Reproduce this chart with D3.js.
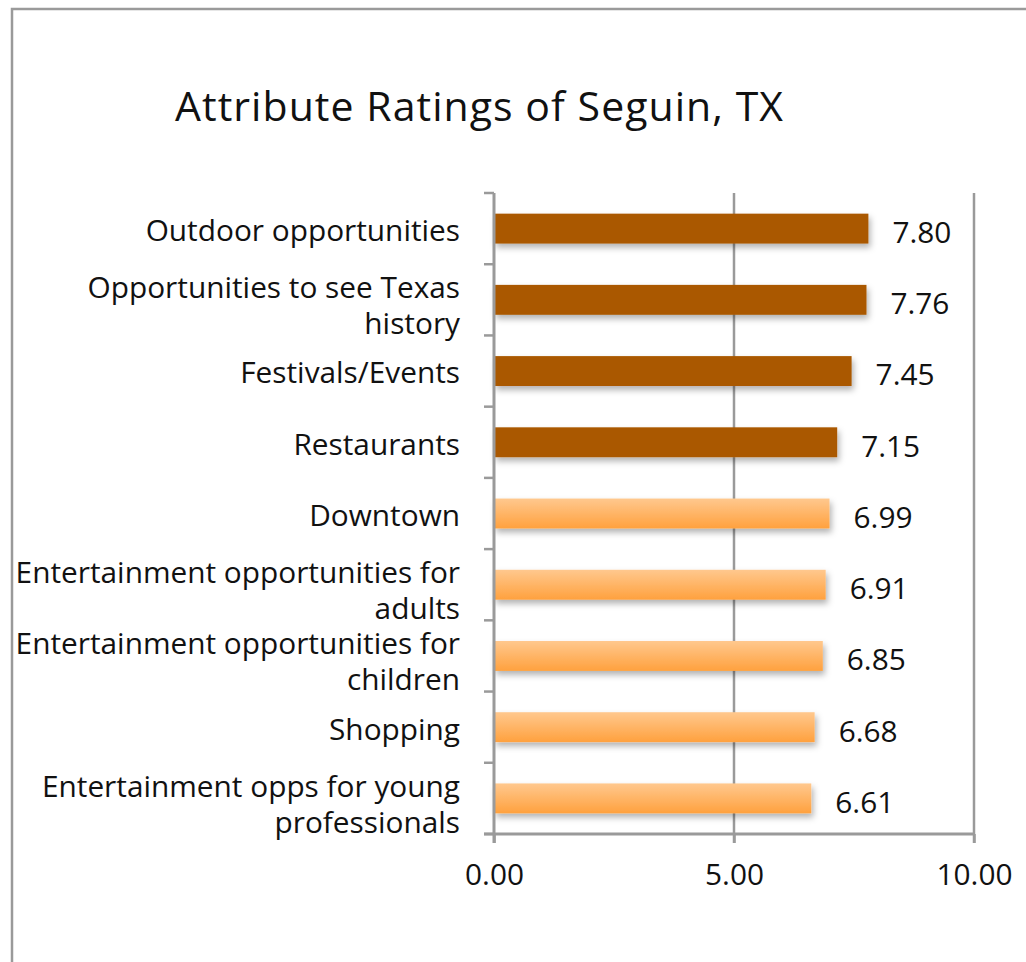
<!DOCTYPE html>
<html>
<head>
<meta charset="utf-8">
<script src="https://cdn.jsdelivr.net/npm/d3@7"></script>
<style>
  html, body { margin: 0; padding: 0; background: #fff; }
  svg text { font-family: "Open Sans", "Noto Sans", sans-serif; fill: #111; }
</style>
</head>
<body>
<div id="chart"></div>
<script>
// chart values
var categories = [
  "Outdoor opportunities",
  "Opportunities to see Texas history",
  "Festivals/Events",
  "Restaurants",
  "Downtown",
  "Entertainment opportunities for adults",
  "Entertainment opportunities for children",
  "Shopping",
  "Entertainment opps for young professionals"
];
var ratings = [7.80, 7.76, 7.45, 7.15, 6.99, 6.91, 6.85, 6.68, 6.61];
var tiers = ["top", "top", "top", "top", "other", "other", "other", "other", "other"];
var xTicks = [0, 5, 10];
var title = "Attribute Ratings of Seguin, TX";

var width = 1026, height = 962;
var margin = { top: 193, right: 52, bottom: 128, left: 494 };
var fontSize = "29.8px";

var svg = d3.select("#chart").append("svg")
  .attr("width", width)
  .attr("height", height);

var defs = svg.append("defs");

var grad = defs.append("linearGradient")
  .attr("id", "lightBar")
  .attr("x1", 0).attr("y1", 0).attr("x2", 0).attr("y2", 1);
grad.append("stop").attr("offset", "0%").attr("stop-color", "#ffc88e");
grad.append("stop").attr("offset", "100%").attr("stop-color", "#ffa13e");

var shadow = defs.append("filter")
  .attr("id", "shadow")
  .attr("x", "-5%").attr("y", "-30%")
  .attr("width", "115%").attr("height", "180%");
shadow.append("feDropShadow")
  .attr("dx", 2).attr("dy", 4)
  .attr("stdDeviation", 3)
  .attr("flood-color", "#000")
  .attr("flood-opacity", 0.3);

// outer frame (only the left and top edges show in the picture)
svg.append("rect")
  .attr("x", 12).attr("y", 9)
  .attr("width", width).attr("height", height)
  .attr("fill", "none")
  .attr("stroke", "#9a9a9a")
  .attr("stroke-width", 2.5);

svg.append("text")
  .attr("x", 175).attr("y", 121)
  .style("font-size", "41px")
  .attr("textLength", 608)
  .text(title);

var x = d3.scaleLinear()
  .domain([0, 10])
  .range([margin.left, width - margin.right]);

var y = d3.scaleBand()
  .domain(categories)
  .range([margin.top, height - margin.bottom])
  .paddingInner(0.58)
  .paddingOuter(0.29);

var axisColor = "#9a9a9a";

// vertical gridlines at 5 and 10
svg.append("g")
  .selectAll("line")
  .data(xTicks.filter(function (d) { return d > 0; }))
  .enter().append("line")
  .attr("x1", function (d) { return x(d); })
  .attr("x2", function (d) { return x(d); })
  .attr("y1", margin.top)
  .attr("y2", height - margin.bottom + 9)
  .attr("stroke", axisColor)
  .attr("stroke-width", 2.5);

// bars
svg.append("g")
  .selectAll("rect")
  .data(categories)
  .enter().append("rect")
  .attr("x", x(0))
  .attr("y", function (d) { return y(d); })
  .attr("width", function (d, i) { return x(ratings[i]) - x(0); })
  .attr("height", y.bandwidth())
  .attr("fill", function (d, i) { return tiers[i] === "top" ? "#aa5900" : "url(#lightBar)"; })
  .attr("filter", "url(#shadow)");

// value labels
svg.append("g")
  .selectAll("text")
  .data(categories)
  .enter().append("text")
  .attr("x", function (d, i) { return x(ratings[i]) + 24; })
  .attr("y", function (d) { return y(d) + y.bandwidth() / 2 + 4; })
  .attr("dy", "0.35em")
  .style("font-size", fontSize)
  .text(function (d, i) { return ratings[i].toFixed(2); });

// left axis: line + ticks between categories
var bandEdges = d3.range(categories.length + 1).map(function (i) {
  return margin.top + i * (height - margin.bottom - margin.top) / categories.length;
});
var yAxis = svg.append("g");
yAxis.append("line")
  .attr("x1", x(0)).attr("x2", x(0))
  .attr("y1", margin.top).attr("y2", height - margin.bottom + 9)
  .attr("stroke", axisColor).attr("stroke-width", 3);
yAxis.selectAll("line.tick")
  .data(bandEdges)
  .enter().append("line")
  .attr("class", "tick")
  .attr("x1", x(0) - 10).attr("x2", x(0))
  .attr("y1", function (d) { return d; })
  .attr("y2", function (d) { return d; })
  .attr("stroke", axisColor).attr("stroke-width", 2.5);

// bottom axis
var xAxis = d3.axisBottom(x)
  .tickValues(xTicks)
  .tickSize(9)
  .tickFormat(d3.format(".2f"));
var gx = svg.append("g")
  .attr("transform", "translate(0," + (height - margin.bottom) + ")")
  .call(xAxis);
gx.select(".domain").attr("stroke", axisColor).attr("stroke-width", 3)
  .attr("d", "M" + (x(0) - 10) + ",0H" + x(10));
gx.selectAll(".tick line").attr("stroke", axisColor).attr("stroke-width", 2.5);
gx.selectAll(".tick text")
  .attr("y", 30)
  .style("font-size", fontSize)
  .style("font-family", "'Open Sans', 'Noto Sans', sans-serif")
  .attr("fill", "#111");

// category labels, wrapped to two lines when too wide
var labelRight = 460;
var maxLabelWidth = 458;
var lineHeight = 36;
svg.append("g")
  .selectAll("text")
  .data(categories)
  .enter().append("text")
  .attr("text-anchor", "end")
  .style("font-size", fontSize)
  .each(function (d) {
    var t = d3.select(this);
    var words = d.split(" ");
    var lines = [];
    var line = [];
    var probe = t.append("tspan");
    words.forEach(function (w) {
      line.push(w);
      probe.text(line.join(" "));
      if (probe.node().getComputedTextLength() > maxLabelWidth && line.length > 1) {
        line.pop();
        lines.push(line.join(" "));
        line = [w];
      }
    });
    lines.push(line.join(" "));
    probe.remove();
    var cy = y(d) + y.bandwidth() / 2 + 2;
    var first = cy - (lines.length - 1) * lineHeight / 2 + (lines.length > 1 ? 4 : 0);
    lines.forEach(function (l, i) {
      t.append("tspan")
        .attr("x", labelRight)
        .attr("y", first + i * lineHeight)
        .attr("dy", "0.35em")
        .text(l);
    });
  });
</script>
</body>
</html>
